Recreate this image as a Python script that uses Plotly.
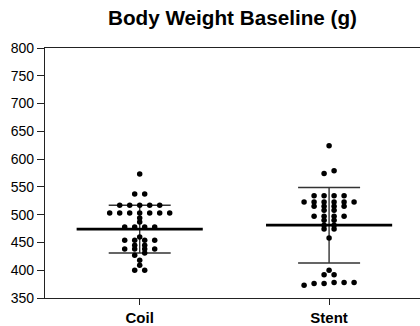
import numpy as np
import plotly.graph_objects as go

# ---- data ----
categories = ["Coil", "Stent"]
coil_values = [573, 537, 537,
               517, 517, 517, 517, 517,
               503, 503, 503, 503, 503, 503, 503,
               494, 487,
               478, 478, 478, 478,
               460,
               454, 454, 454, 454,
               445, 445,
               438, 438, 438, 438,
               431, 427, 418, 409, 400, 400]
stent_values = [624, 579, 574,
                534, 534, 534, 534,
                523, 523, 523, 523, 523, 523,
                515, 515, 515, 515,
                508, 508,
                497, 497, 497, 497,
                490, 490,
                481, 481,
                474, 474,
                458,
                400, 392, 392,
                378, 378, 378, 376, 376, 373]
group_means = [474, 481]
group_sds = [43, 68]
y_tick_values = [350, 400, 450, 500, 550, 600, 650, 700, 750, 800]
title_text = "Body Weight Baseline (g)"

# ---- layout geometry (page body margin removed via post_script) ----
W, H = 420, 326
M_L, M_R, M_T, M_B = 45, 0, 48, 28
Y_RANGE = [350, 800]
X_RANGE = [-0.5, 1.48]
plot_w = W - M_L - M_R
plot_h = H - M_T - M_B
px_per_x = plot_w / (X_RANGE[1] - X_RANGE[0])
col_step = 10.0 / px_per_x          # 10 px between neighbouring dots
row_tol = 5                          # values this close share a row


def swarm_offsets(vals):
    """Prism-like scatter: near-equal values form centred rows."""
    vals = np.asarray(vals, dtype=float)
    order = np.argsort(vals)
    offs = np.zeros(len(vals))
    rows, cur = [], [order[0]]
    for idx in order[1:]:
        if vals[idx] - vals[cur[0]] <= row_tol:
            cur.append(idx)
        else:
            rows.append(cur)
            cur = [idx]
    rows.append(cur)
    for r in rows:
        n = len(r)
        for j, idx in enumerate(r):
            offs[idx] = (j - (n - 1) / 2.0) * col_step
    return offs


fig = go.Figure()
groups = [coil_values, stent_values]
mean_half = 0.333

# SD error bars
fig.add_trace(go.Scatter(
    x=list(range(len(categories))), y=group_means, mode="markers",
    marker=dict(size=1, color="rgba(0,0,0,0)"),
    error_y=dict(type="data", array=group_sds, visible=True,
                 color="#333333", thickness=1.4, width=31),
    showlegend=False, hoverinfo="skip"))

# mean lines
for i, m in enumerate(group_means):
    fig.add_trace(go.Scatter(
        x=[i - mean_half, i + mean_half], y=[m, m], mode="lines",
        line=dict(color="#000000", width=2.8),
        showlegend=False, hoverinfo="skip"))

# dots
for i, vals in enumerate(groups):
    offs = swarm_offsets(vals)
    fig.add_trace(go.Scatter(
        x=i + offs, y=vals, mode="markers",
        marker=dict(size=5.5, color="#000000", line=dict(width=0)),
        showlegend=False, name=categories[i]))

fig.update_layout(
    width=W, height=H,
    margin=dict(l=M_L, r=M_R, t=M_T, b=M_B, pad=0),
    paper_bgcolor="white", plot_bgcolor="white",
    font=dict(family="Liberation Sans, Arial, sans-serif", color="#000000"),
    title=dict(text="<b>" + title_text + "</b>", x=(M_L + plot_w / 2) / W,
               xanchor="center", y=1 - 18 / H, yanchor="middle",
               font=dict(size=20.7, color="#000000")),
    xaxis=dict(range=X_RANGE, tickvals=list(range(len(categories))),
               ticktext=["<b>" + c + "</b>" for c in categories],
               tickfont=dict(size=15), showgrid=False, zeroline=False,
               showline=True, linecolor="#222222", linewidth=1.2, mirror=True,
               ticks="outside", ticklen=6, tickcolor="#222222", tickwidth=1.2),
    yaxis=dict(range=Y_RANGE, tickvals=y_tick_values,
               tickfont=dict(size=14), showgrid=False, zeroline=False,
               showline=True, linecolor="#222222", linewidth=1.2,
               ticks="outside", ticklen=7, tickcolor="#222222", tickwidth=1.2),
)

fig.write_html("out.html",
               config={"displayModeBar": False},
               post_script="document.body.style.margin='0px';")
